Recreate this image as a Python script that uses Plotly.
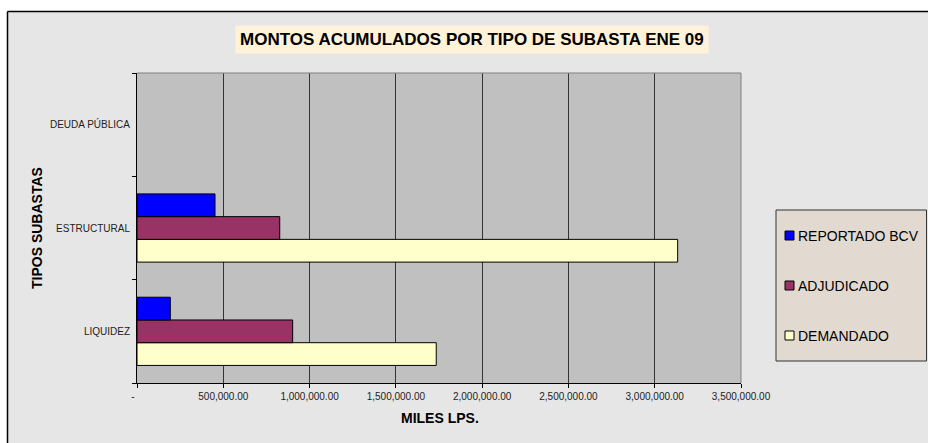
import plotly.graph_objects as go

# ---- data ----
categories = ["LIQUIDEZ", "ESTRUCTURAL", "DEUDA PÚBLICA"]
series_names = ["REPORTADO BCV", "ADJUDICADO", "DEMANDADO"]
reportado_bcv = [193000, 452000, 0]
adjudicado = [902000, 827000, 0]
demandado = [1734000, 3133000, 0]
x_tick_values = [0, 500000, 1000000, 1500000, 2000000, 2500000, 3000000, 3500000]
x_tick_labels = ["-\u00a0\u00a0\u00a0", "500,000.00", "1,000,000.00", "1,500,000.00",
                 "2,000,000.00", "2,500,000.00", "3,000,000.00", "3,500,000.00"]
title_text = "MONTOS ACUMULADOS POR TIPO DE SUBASTA ENE 09"
x_title = "MILES LPS."
y_title = "TIPOS SUBASTAS"

# ---- style ----
colors = {"REPORTADO BCV": "#0000FF", "ADJUDICADO": "#993366", "DEMANDADO": "#FFFFCC"}
W, H = 928, 443
ML, MR, MT, MB = 137, 187, 73, 60
PW, PH = W - ML - MR, H - MT - MB
FONT = "Arial, Liberation Sans, sans-serif"


def px(x):
    return (x - ML) / PW


def py(y):
    return (H - MB - y) / PH


values = {"REPORTADO BCV": reportado_bcv, "ADJUDICADO": adjudicado, "DEMANDADO": demandado}

fig = go.Figure()
# first trace is drawn lowest in each group
for name in ["DEMANDADO", "ADJUDICADO", "REPORTADO BCV"]:
    vals = values[name]
    fig.add_trace(go.Bar(
        y=categories, x=vals, name=name, orientation="h",
        marker=dict(color=colors[name],
                    line=dict(color="#000000", width=[1 if v else 0 for v in vals])),
        showlegend=False,
    ))

shapes = []
annotations = []

# outer frame: white strips at top/left and black border lines
shapes.append(dict(type="rect", xref="paper", yref="paper", x0=px(-5), x1=px(W + 5),
                   y0=py(11.5), y1=py(-5), fillcolor="white", line=dict(width=0), layer="below"))
shapes.append(dict(type="rect", xref="paper", yref="paper", x0=px(-5), x1=px(7.5),
                   y0=py(H + 5), y1=py(-5), fillcolor="white", line=dict(width=0), layer="below"))
shapes.append(dict(type="line", xref="paper", yref="paper", x0=px(7.5), x1=px(W + 5),
                   y0=py(11.5), y1=py(11.5), line=dict(color="black", width=1.5)))
shapes.append(dict(type="line", xref="paper", yref="paper", x0=px(7.5), x1=px(7.5),
                   y0=py(11.5), y1=py(H + 5), line=dict(color="black", width=1.5)))

# plot area top/right edge
shapes.append(dict(type="line", xref="paper", yref="paper", x0=0, x1=1, y0=1, y1=1,
                   line=dict(color="#808080", width=1)))
shapes.append(dict(type="line", xref="paper", yref="paper", x0=1, x1=1, y0=0, y1=1,
                   line=dict(color="#808080", width=1)))

# legend box
shapes.append(dict(type="rect", xref="paper", yref="paper", x0=px(776), x1=px(926.5),
                   y0=py(361), y1=py(210), fillcolor="#E2DAD0", line=dict(color="#333333", width=1)))
legend_y = [235.5, 285.5, 335.5]
for name, ly in zip(series_names, legend_y):
    shapes.append(dict(type="rect", xref="paper", yref="paper", x0=px(785), x1=px(794),
                       y0=py(ly + 4.5), y1=py(ly - 4.5), fillcolor=colors[name],
                       line=dict(color="#000000", width=1)))
    annotations.append(dict(text=name, xref="paper", yref="paper", x=px(796), y=py(ly),
                            xanchor="left", yanchor="middle", showarrow=False,
                            font=dict(family=FONT, size=14, color="#000000")))

# chart title
annotations.append(dict(text="<b>" + title_text + "</b>", xref="paper", yref="paper",
                        x=px(472), y=py(39), xanchor="center", yanchor="middle",
                        showarrow=False, bgcolor="#FFF2D9", borderpad=4,
                        font=dict(family=FONT, size=17, color="#000000")))
# axis titles
annotations.append(dict(text="<b>" + x_title + "</b>", xref="paper", yref="paper",
                        x=px(440), y=py(417.5), xanchor="center", yanchor="middle",
                        showarrow=False, font=dict(family=FONT, size=14, color="#000000")))
annotations.append(dict(text="<b>" + y_title + "</b>", xref="paper", yref="paper",
                        x=px(36.5), y=py(228.5), xanchor="center", yanchor="middle",
                        textangle=-90, showarrow=False,
                        font=dict(family=FONT, size=14, color="#000000")))

fig.update_layout(
    width=W, height=H,
    margin=dict(l=ML, r=MR, t=MT, b=MB, pad=0),
    paper_bgcolor="#E6E6E6",
    plot_bgcolor="#C0C0C0",
    barmode="group", bargap=0.34, bargroupgap=0,
    showlegend=False,
    shapes=shapes,
    annotations=annotations,
    font=dict(family=FONT, size=10, color="#222222"),
    xaxis=dict(
        range=[0, 3500000], tickmode="array", tickvals=x_tick_values, ticktext=x_tick_labels,
        showgrid=True, gridcolor="#333333", gridwidth=1,
        showline=True, linecolor="#000000", linewidth=1,
        ticks="outside", ticklen=4, tickcolor="#000000",
        tickfont=dict(family=FONT, size=10, color="#222222"),
        zeroline=False, fixedrange=True,
    ),
    yaxis=dict(
        type="category", categoryorder="array", categoryarray=categories,
        showgrid=False, showline=True, linecolor="#000000", linewidth=1,
        ticks="outside", ticklen=4, tickcolor="#000000", tickson="boundaries",
        ticklabelstandoff=4,
        tickfont=dict(family=FONT, size=10, color="#222222"),
        zeroline=False, fixedrange=True,
    ),
)

fig.write_html(
    "out.html",
    config={"displayModeBar": False},
    post_script="document.body.style.margin='0';document.body.style.overflow='hidden';",
)
